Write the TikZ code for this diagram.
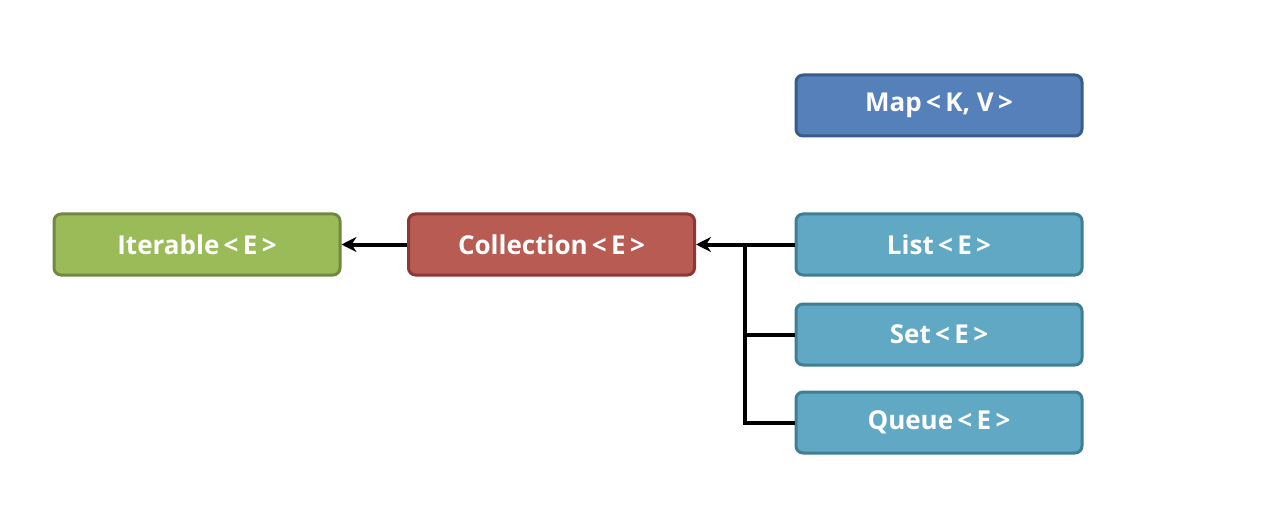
\documentclass[tikz,border=0pt]{standalone}
\usepackage{fontspec}
\setmainfont{Open Sans}
\usetikzlibrary{arrows.meta}
\definecolor{gfill}{HTML}{9BBB59}\definecolor{gdraw}{HTML}{71893F}
\definecolor{rfill}{HTML}{B85B53}\definecolor{rdraw}{HTML}{8C3836}
\definecolor{bfill}{HTML}{5580BA}\definecolor{bdraw}{HTML}{385D8A}
\definecolor{tfill}{HTML}{60A8C4}\definecolor{tdraw}{HTML}{3E7F95}
\newcommand{\lt}{\,<\,}
\newcommand{\gt}{\,>}
\tikzset{
  box/.style={rounded corners=7pt, line width=3pt, minimum width=286pt, minimum height=61pt,
    inner sep=0pt, text=white, font=\fontsize{26}{30}\selectfont\bfseries},
  conn/.style={line width=4pt, black},
  arr/.style={conn, -{Stealth[length=15pt,width=15pt]}}
}
\begin{document}
\begin{tikzpicture}[x=1pt,y=-1pt]
\useasboundingbox[fill=white] (0,0) rectangle (1278,508);
\node[box, fill=gfill, draw=gdraw] (it) at (197,244.5) {Iterable\lt E\gt};
\node[box, fill=rfill, draw=rdraw] (col) at (551.5,244.5) {Collection\lt E\gt};
\node[box, fill=bfill, draw=bdraw] (map) at (939,105.5) {Map\lt K, V\gt};
\node[box, fill=tfill, draw=tdraw] (list) at (939,244.5) {List\lt E\gt};
\node[box, fill=tfill, draw=tdraw] (set) at (939,334.5) {Set\lt E\gt};
\node[box, fill=tfill, draw=tdraw] (queue) at (939,422.5) {Queue\lt E\gt};
\coordinate (j) at (745,244.5);
\draw[arr] (col.west) -- (it.east);
\draw[arr] (list.west) -- (col.east);
\draw[conn] (j) |- (set.west);
\draw[conn] (j) |- (queue.west);
\end{tikzpicture}
\end{document}
